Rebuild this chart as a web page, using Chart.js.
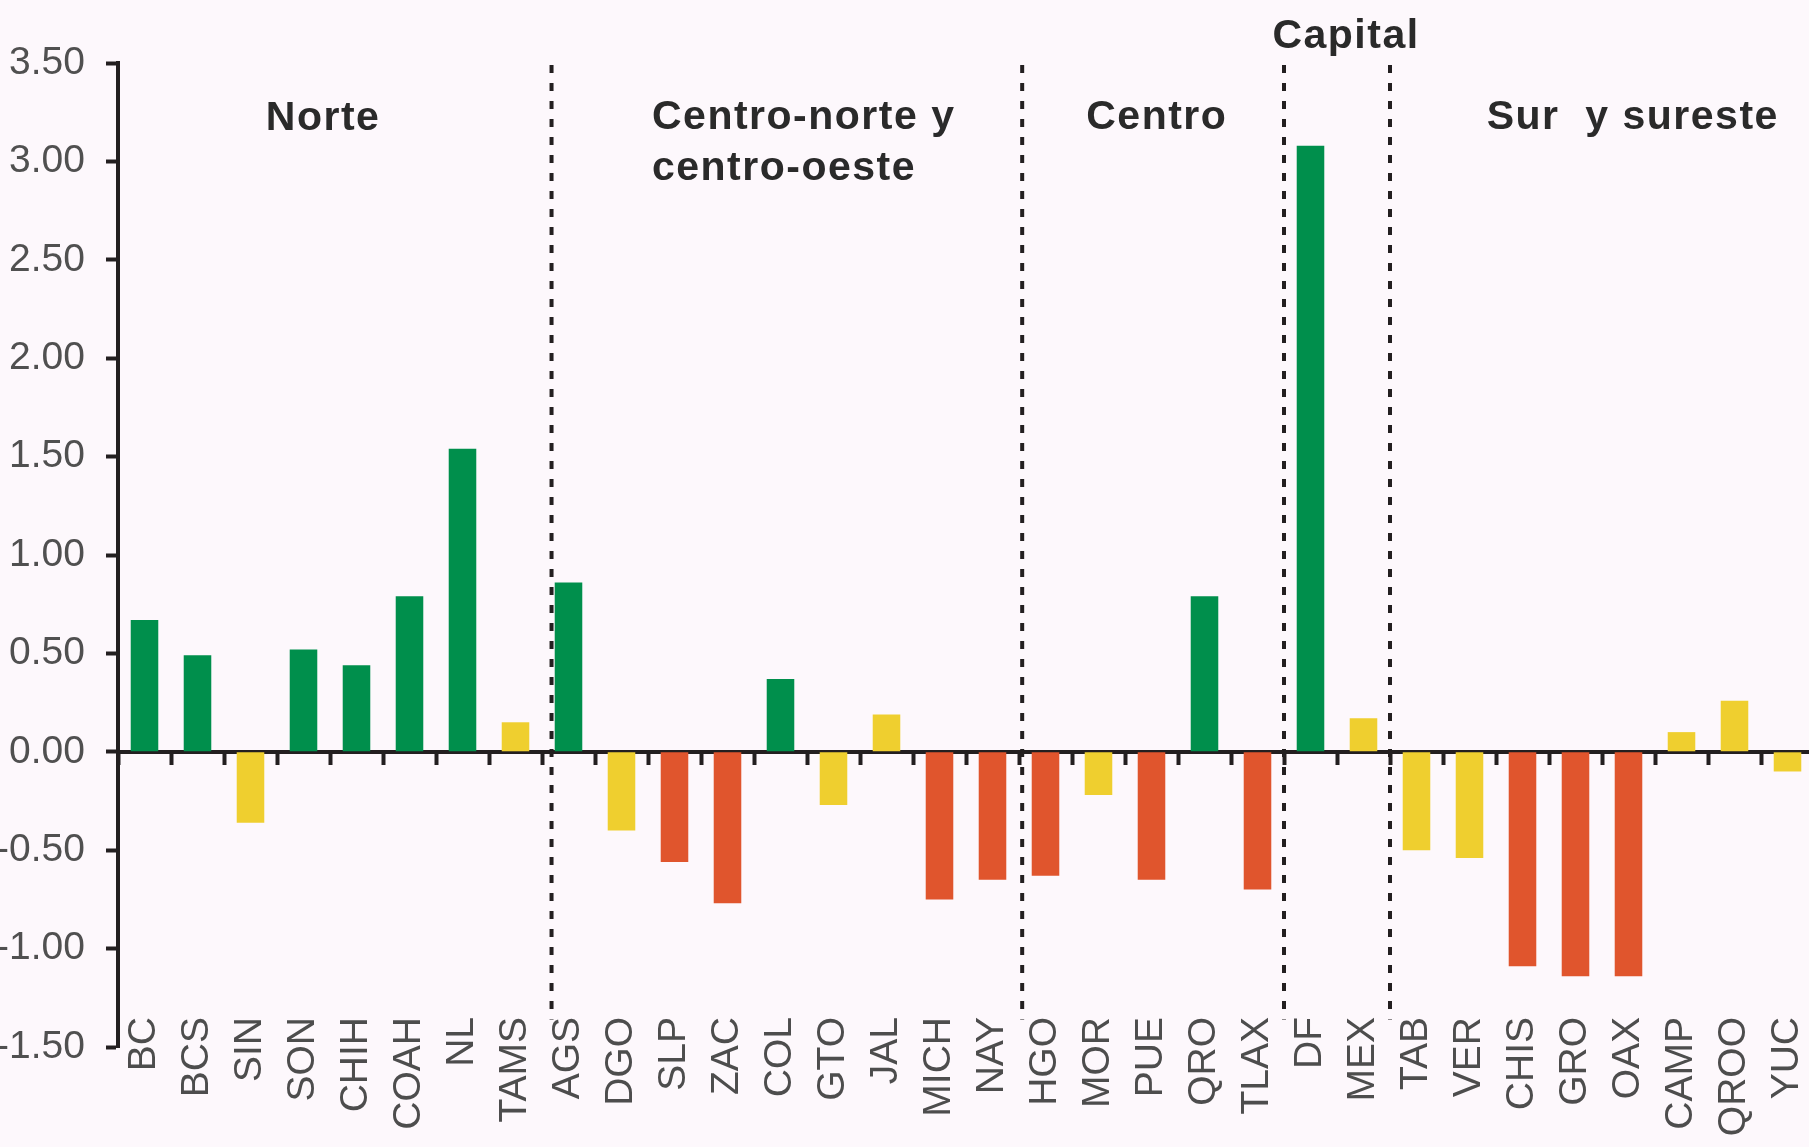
<!DOCTYPE html>
<html><head><meta charset="utf-8">
<script src="https://cdn.jsdelivr.net/npm/chart.js@4/dist/chart.umd.min.js"></script>
<style>
html,body{margin:0;padding:0;background:#fdf8fc;overflow:hidden;width:1809px;height:1147px}
canvas{display:block}
</style></head><body>
<canvas id="c" width="1814" height="1147" style="width:1814px;height:1147px"></canvas>
<script>
// ---- data ----
const states = ['BC','BCS','SIN','SON','CHIH','COAH','NL','TAMS','AGS','DGO','SLP','ZAC','COL','GTO','JAL','MICH','NAY','HGO','MOR','PUE','QRO','TLAX','DF','MEX','TAB','VER','CHIS','GRO','OAX','CAMP','QROO','YUC'];
const values = [0.67,0.49,-0.36,0.52,0.44,0.79,1.54,0.15,0.86,-0.40,-0.56,-0.77,0.37,-0.27,0.19,-0.75,-0.65,-0.63,-0.22,-0.65,0.79,-0.70,3.08,0.17,-0.50,-0.54,-1.09,-1.14,-1.14,0.10,0.26,-0.10];
const levels = ['g','g','y','g','g','g','g','y','g','y','r','r','g','y','y','r','r','r','y','r','g','r','g','y','y','y','r','r','r','y','y','y'];
const yTicks = [-1.5,-1,-0.5,0,0.5,1,1.5,2,2.5,3,3.5];
const regionNames = [['Norte'],['Centro-norte y','centro-oeste'],['Centro'],['Capital'],['Sur  y sureste']];

// ---- layout / style ----
const FONT = '"Liberation Sans", Arial, sans-serif';
const INK = '#231f20';
const levelColor = {g:'#008f4c', y:'#efcf2f', r:'#e0552d'};
const breakPos = [7.68, 16.56, 21.5, 23.5];          // along category axis
const titlePos = [                                   // [category x, value y, align]
  [3.37, 3.16, 'center'],
  [9.575, 3.165, 'left'],
  [19.1, 3.165, 'center'],
  [22.67, 3.575, 'center'],
  [28.08, 3.165, 'center']
];

const regionPlugin = {
  id: 'regions',
  afterDraw(chart) {
    const {ctx, scales:{x, y}} = chart;
    const step = x.getPixelForValue(1) - x.getPixelForValue(0);
    ctx.save();
    ctx.strokeStyle = INK;
    ctx.lineWidth = 4;
    ctx.setLineDash([8, 10]);
    breakPos.forEach(p => {
      const px = x.getPixelForValue(0) + p * step;
      ctx.beginPath();
      ctx.moveTo(px, y.getPixelForValue(3.49));
      ctx.lineTo(px, y.getPixelForValue(-1.36));
      ctx.stroke();
    });
    ctx.setLineDash([]);
    ctx.fillStyle = '#2a2a2a';
    ctx.font = 'bold 41px ' + FONT;
    try { ctx.letterSpacing = '1.5px'; } catch(e) {}
    ctx.textBaseline = 'alphabetic';
    regionNames.forEach((lines, i) => {
      const [cx, vy, align] = titlePos[i];
      ctx.textAlign = align;
      const px = x.getPixelForValue(0) + cx * step;
      const py = y.getPixelForValue(vy);
      lines.forEach((t, j) => ctx.fillText(t, px, py + j * 51));
    });
    ctx.restore();
  }
};

new Chart(document.getElementById('c'), {
  type: 'bar',
  data: {
    labels: states,
    datasets: [{
      data: values,
      backgroundColor: levels.map(l => levelColor[l]),
      borderWidth: 0,
      barPercentage: 0.52,
      categoryPercentage: 1
    }]
  },
  options: {
    responsive: false,
    animation: false,
    devicePixelRatio: 1,
    layout: {padding: {top: 63, left: 0, right: 0, bottom: 100}},
    plugins: {legend: {display: false}, tooltip: {enabled: false}},
    scales: {
      x: {
        type: 'category', offset: true, position: {y: 0}, z: 1,
        grid: {offset: true, drawOnChartArea: false, drawTicks: true, tickLength: 11, tickWidth: 4, tickColor: INK},
        border: {display: true, width: 4, color: INK},
        ticks: {display: false}
      },
      x2: {
        type: 'category', labels: states, offset: true, position: {y: -1.5},
        grid: {display: false, drawTicks: false},
        border: {display: false},
        ticks: {autoSkip: false, minRotation: 90, maxRotation: 90, padding: -30,
                font: {size: 39, family: FONT}, color: '#4d4d4d'}
      },
      y: {
        min: -1.5, max: 3.5,
        afterBuildTicks: s => { s.ticks = yTicks.map(v => ({value: v})); },
        afterFit: s => { s.width = 118; },
        grid: {drawOnChartArea: false, drawTicks: true, tickLength: 12, tickWidth: 4, tickColor: INK},
        border: {display: true, width: 4, color: INK},
        ticks: {padding: 21, font: {size: 39, family: FONT}, color: '#505050',
                callback: v => Number(v).toFixed(2)}
      }
    }
  },
  plugins: [regionPlugin]
});
</script>
</body></html>
